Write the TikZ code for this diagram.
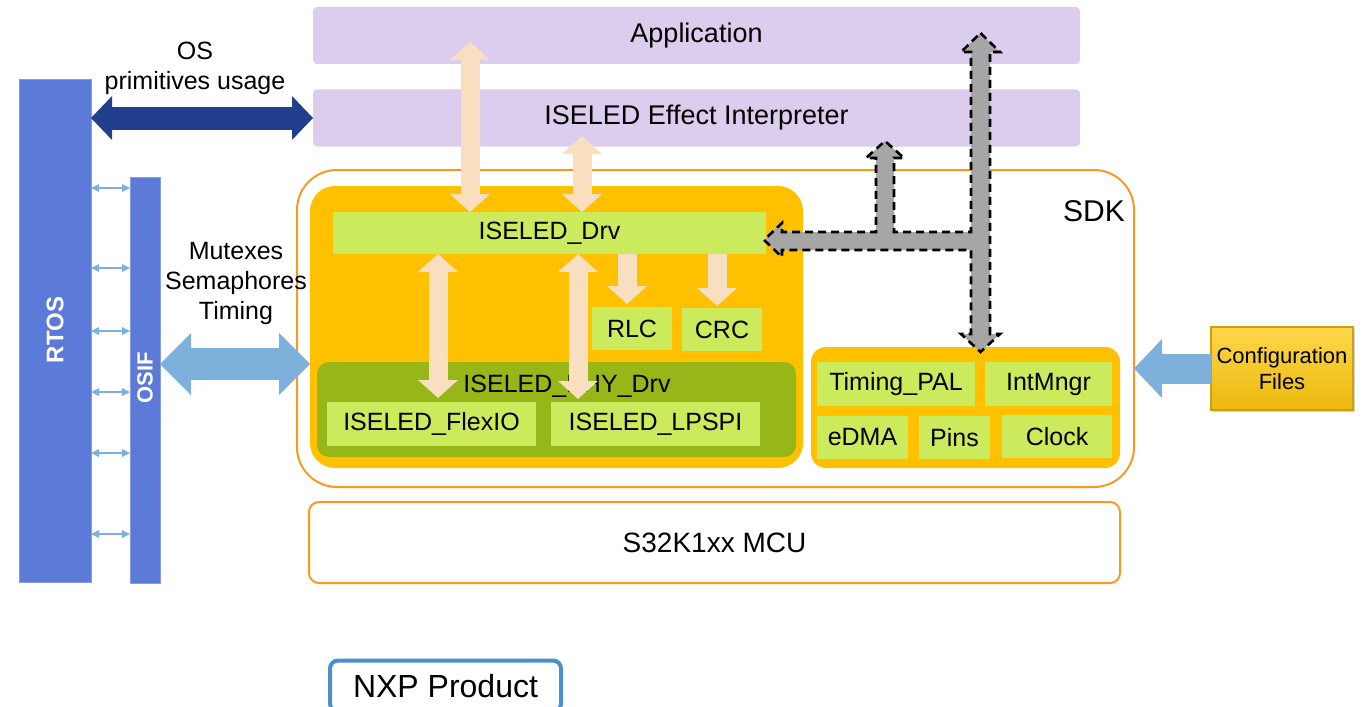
\documentclass[tikz,border=0pt]{standalone}
\usepackage{fontspec}
\setmainfont{Liberation Sans}
\usetikzlibrary{arrows.meta,shadows}

\definecolor{lavc}{HTML}{DCCCEE}
\definecolor{yelc}{HTML}{FFC000}
\definecolor{limec}{HTML}{CCEB5C}
\definecolor{phyc}{HTML}{97B617}
\definecolor{orc}{HTML}{F89A1E}
\definecolor{peachc}{HTML}{F8DFBF}
\definecolor{rtosc}{HTML}{5C7AD8}
\definecolor{navyc}{HTML}{223F8E}
\definecolor{skyc}{HTML}{7DB1DC}
\definecolor{goldc}{HTML}{FFC90E}
\definecolor{nxpc}{HTML}{4A90D0}

\tikzset{
	ptip/.tip={Triangle[width=20pt,length=9pt,line width=0pt]},
	ntip/.tip={Triangle[width=22pt,length=10.5pt,line width=0pt]},
	btip/.tip={Triangle[width=31pt,length=15.5pt,line width=0pt]},
	ctip/.tip={Triangle[width=29.5pt,length=14pt,line width=0pt]},
	stip/.tip={Triangle[width=4pt,length=4pt,line width=0pt]},
	blk/.style={inner sep=0pt, outer sep=0pt},
	lbl/.style={font=\fontsize{12.5}{15}\selectfont},
	biglbl/.style={font=\fontsize{13.5}{16}\selectfont},
	lavbox/.style={blk, biglbl, fill=lavc, rounded corners=2pt, minimum width=383.5pt, minimum height=28.5pt},
	orbox/.style={blk, draw=orc, line width=1pt},
	yelbox/.style={blk, fill=yelc},
	lime/.style={blk, lbl, fill=limec},
	osbar/.style={blk, fill=rtosc, draw=rtosc!75!white, line width=0.4pt},
	bartxt/.style={white, rotate=90, font=\fontsize{12}{14}\selectfont\bfseries},
	peach/.style={draw=peachc, line width=9.5pt, ptip-ptip},
	peachone/.style={draw=peachc, line width=9.5pt, -ptip},
	navyarr/.style={draw=navyc, line width=11.5pt, ntip-ntip},
	skyarr/.style={draw=skyc, line width=16pt, btip-btip},
	cfgarr/.style={draw=skyc, line width=15pt, -ctip},
	thinarr/.style={draw=skyc, line width=0.6pt, stip-stip},
	grayarr/.style={fill=black!35, draw=black, line width=1.3pt, dash pattern=on 4pt off 2.5pt}
}

\begin{document}
\begin{tikzpicture}[x=0.5pt,y=-0.5pt]
	\useasboundingbox (0,0) rectangle (1368,706);

	\node[lavbox] (app) at (696.5,35.5) {Application};
	\node[lavbox] (interp) at (696.5,118) {ISELED Effect Interpreter};

	% SDK
	\node[orbox, minimum width=418.5pt, minimum height=158.5pt, rounded corners=20pt] (sdk) at (715.5,328.5) {};
	\node[font=\fontsize{15}{18}\selectfont] (sdktxt) at (1094,211) {SDK};
	\node[yelbox, minimum width=246.5pt, minimum height=141pt, rounded corners=12.5pt] (iseled) at (556.5,327) {};
		\node[lime, minimum width=216.5pt, minimum height=21pt] (drv) at (549.5,233) {ISELED\_Drv};
		\node[lime, minimum width=40pt, minimum height=21.5pt] (rlc) at (632,328.5) {RLC};
		\node[lime, minimum width=40pt, minimum height=21.5pt] (crc) at (722,329.5) {CRC};
		\node[blk, fill=phyc, rounded corners=6pt, minimum width=239.5pt, minimum height=47.5pt] (phy) at (556.5,409.5) {};
		\node[lbl] (phytxt) at (567,386) {ISELED\_PHY\_Drv};
		\node[lime, minimum width=104.5pt, minimum height=22pt] (flexio) at (431.5,424) {ISELED\_FlexIO};
		\node[lime, minimum width=104.5pt, minimum height=22pt] (lpspi) at (655.5,424) {ISELED\_LPSPI};

	\node[yelbox, minimum width=154.5pt, minimum height=60.5pt, rounded corners=7.5pt] (periph) at (965.5,407.5) {};
		\node[lime, minimum width=79pt, minimum height=22pt] (timing) at (896,384) {Timing\_PAL};
		\node[lime, minimum width=63.5pt, minimum height=22pt] (intm) at (1048.5,384) {IntMngr};
		\node[lime, minimum width=45.5pt, minimum height=21.5pt] (edma) at (862.5,437.5) {eDMA};
		\node[lime, minimum width=35.5pt, minimum height=21.5pt] (pins) at (954.5,437.5) {Pins};
		\node[lime, minimum width=55pt, minimum height=21.5pt] (clock) at (1057,436.5) {Clock};

	\node[orbox, rounded corners=5pt, minimum width=405.5pt, minimum height=40.5pt, font=\fontsize{14}{17}\selectfont] (mcu) at (714.5,542.5) {S32K1xx MCU};
	\node[blk, draw=nxpc, line width=2pt, rounded corners=4pt, minimum width=115.5pt, minimum height=25.5pt, font=\fontsize{16}{19}\selectfont] (nxp) at (445.5,686) {NXP Product};

	% RTOS side
	\node[osbar, minimum width=36pt, minimum height=251.5pt] (rtos) at (55,330.5) {};
	\node[bartxt] (rtostxt) at (55,330) {RTOS};
	\node[osbar, minimum width=15pt, minimum height=203pt] (osif) at (145,380) {};
	\node[bartxt, font=\fontsize{11}{13}\selectfont\bfseries] (osiftxt) at (145,378) {OSIF};
	\node[lbl, align=center] (ostxt) at (195,68) {OS\\primitives usage};
	\node[lbl, align=center] (mutex) at (236,283) {Mutexes\\Semaphores\\Timing};

	\node[blk, top color=goldc!75!white, bottom color=goldc!92!black, draw=goldc!80!black, line width=0.6pt, minimum width=71pt, minimum height=41.5pt, align=center,
		font=\fontsize{11}{13}\selectfont, drop shadow={opacity=0.35, shadow xshift=1.2pt, shadow yshift=-1.2pt}] (cfg) at (1282,368.5) {Configuration\\Files};

	% arrows
	\draw[navyarr] (rtos.east |- interp.west) -- (interp.west);
	\coordinate (osifout) at (160,364);
	\draw[skyarr] (osifout) -- (iseled.west |- osifout);
	\foreach \y in {188,268,331,392,453,534}{
		\coordinate (s\y) at (91,\y);
		\draw[thinarr] (s\y) -- (osif.west |- s\y);
	}
	\draw[cfgarr] (cfg.west) -- (sdk.east |- cfg.west);

	\coordinate (pa) at (470,42);
	\draw[peach] (pa) -- (pa |- drv.north);
	\coordinate (pb) at (582,136);
	\draw[peach] (pb) -- (pb |- drv.north);
	\coordinate (pc) at (438,398);
	\draw[peach] (pc |- drv.south) -- (pc);
	\coordinate (pd) at (578,399);
	\draw[peach] (pd |- drv.south) -- (pd);
	\coordinate (pe) at (627,304);
	\draw[peachone] (pe |- drv.south) -- (pe);
	\coordinate (pf) at (717,306);
	\draw[peachone] (pf |- drv.south) -- (pf);

	\draw[grayarr] (980.5,33) -- (1000,52) -- (990,52) -- (990,334) -- (1000,334) -- (980.5,352) -- (961,334) -- (971,334)
		-- (971,250) -- (782,250) -- (782,257) -- (764,240) -- (782,223) -- (782,232) -- (876,232) -- (876,158) -- (866,158)
		-- (885,141) -- (904,158) -- (894,158) -- (894,232) -- (971,232) -- (971,52) -- (961,52) -- cycle;
\end{tikzpicture}
\end{document}
